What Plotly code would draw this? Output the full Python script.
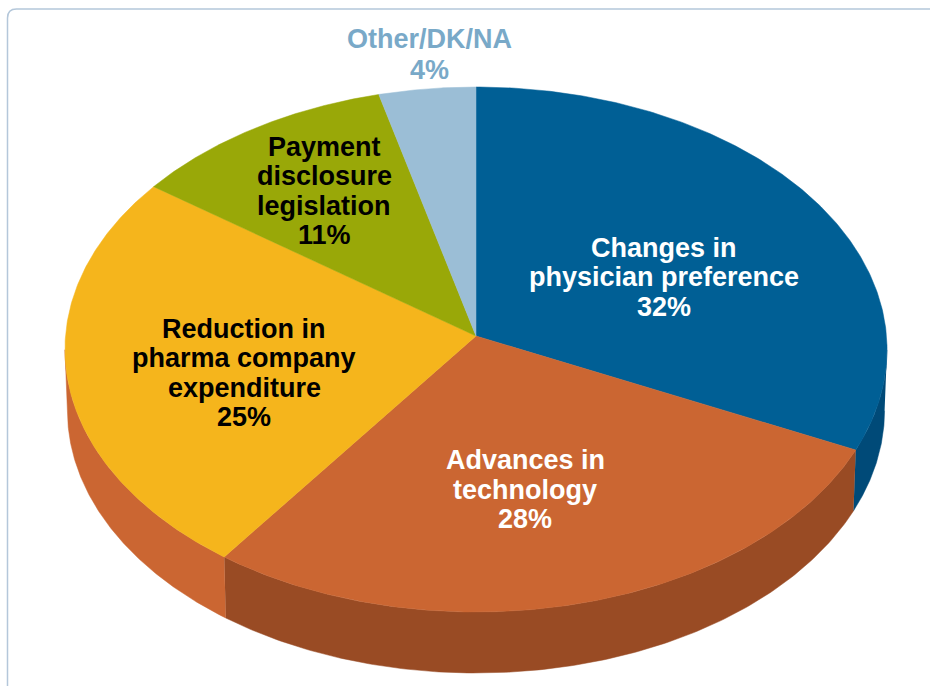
import numpy as np
import plotly.graph_objects as go

# ---- data ----
categories = ["Changes in physician preference", "Advances in technology",
              "Reduction in pharma company expenditure", "Payment disclosure legislation",
              "Other/DK/NA"]
shares = [32, 28, 25, 11, 4]
label_lines = [["Changes in", "physician preference", "32%"],
               ["Advances in", "technology", "28%"],
               ["Reduction in", "pharma company", "expenditure", "25%"],
               ["Payment", "disclosure", "legislation", "11%"],
               ["Other/DK/NA", "4%"]]

# ---- style / layout ----
top_colors = ["#005f95", "#cb6632", "#f5b51c", "#99a808", "#9bbed6"]
text_colors = ["white", "white", "black", "black", "#79a9c8"]
label_x = [664, 525, 244, 324, 429]
label_y = [247.5, 460, 328.5, 146.5, 38.5]
label_step = [29.6, 29.6, 29.6, 29.6, 31]
FONT = dict(family="Liberation Sans, Arial, sans-serif", size=27)

CX, CY = 476.0, 336.0
A, B, K = 410.5, 261.8, 0.0514
DEPTH, BOTTOM_SCALE = 61.0, 0.994


def project(deg, bottom=False):
    t = np.radians(deg)
    X, Z = np.sin(t), -np.cos(t)
    w = 1 - K * Z
    u, v = A * X / w, B * Z / w
    if bottom:
        return CX + u * BOTTOM_SCALE, CY + v + DEPTH
    return CX + u, CY + v


edges = np.cumsum([0] + shares) / sum(shares) * 360
fig = go.Figure()


def wall(a0, a1, color):
    deg = np.linspace(a0, a1, 160)
    x1, y1 = project(deg)
    x2, y2 = project(deg[::-1], bottom=True)
    fig.add_trace(go.Scatter(x=np.r_[x1, x2], y=np.r_[y1, y2], mode="lines", fill="toself",
                             fillcolor=color, line=dict(color=color, width=0.5),
                             hoverinfo="skip", showlegend=False))


# outer wall, visible from the right tangent round the front to the left tangent
wall(93, edges[1], "#004a78")
wall(edges[1], edges[2], "#994b24")
wall(edges[2], 267, "#cb6632")

for i, name in enumerate(categories):
    deg = np.linspace(edges[i], edges[i + 1], 200)
    x, y = project(deg)
    fig.add_trace(go.Scatter(x=np.r_[CX, x, CX], y=np.r_[CY, y, CY], mode="lines", fill="toself",
                             fillcolor=top_colors[i], line=dict(color=top_colors[i], width=0.5),
                             name=name, hoverinfo="name", showlegend=False))

for i, lines in enumerate(label_lines):
    for j, line in enumerate(lines):
        fig.add_annotation(x=label_x[i], y=label_y[i] + j * label_step[i], text=f"<b>{line}</b>",
                           showarrow=False, xanchor="center", yanchor="middle",
                           font=dict(color=text_colors[i], **FONT))

fig.update_layout(
    width=930, height=686, margin=dict(l=0, r=0, t=0, b=0),
    paper_bgcolor="white", plot_bgcolor="white",
    xaxis=dict(range=[0, 930], visible=False, fixedrange=True),
    yaxis=dict(range=[686, 0], visible=False, fixedrange=True),
    shapes=[dict(type="path", xref="x", yref="y",
                 path="M 7.5 700 L 7.5 18 Q 7.5 9 16.5 9 L 940 9",
                 line=dict(color="#b4c7da", width=1.5))],
)
fig.write_html("out.html", config={"displayModeBar": False},
               post_script="document.body.style.margin='0';document.body.style.overflow='hidden';")
